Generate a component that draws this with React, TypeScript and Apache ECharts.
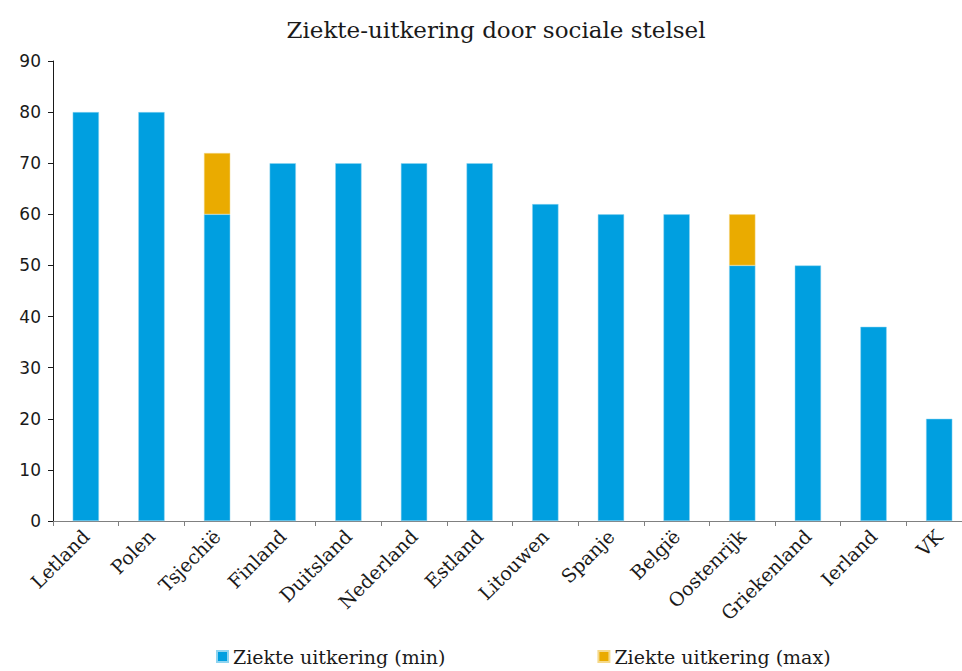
import React, { useEffect, useRef } from "react";
import * as echarts from "echarts";

const categories = ["Letland", "Polen", "Tsjechië", "Finland", "Duitsland", "Nederland", "Estland", "Litouwen", "Spanje", "België", "Oostenrijk", "Griekenland", "Ierland", "VK"];
const minValues = [80, 80, 60, 70, 70, 70, 70, 62, 60, 60, 50, 50, 38, 20];
const maxExtra = [0, 0, 12, 0, 0, 0, 0, 0, 0, 0, 10, 0, 0, 0];
const yTicks = [0, 10, 20, 30, 40, 50, 60, 70, 80, 90];

const SERIF = "'DejaVu Serif', serif";
const SANS = "'DejaVu Sans', sans-serif";

export default function App() {
  const ref = useRef<HTMLDivElement>(null);
  useEffect(() => {
    if (!ref.current) return;
    const chart = echarts.init(ref.current, null, { renderer: "svg" });
    chart.setOption({
      animation: false,
      backgroundColor: "#ffffff",
      title: {
        text: "Ziekte-uitkering door sociale stelsel",
        left: 491,
        textAlign: "center",
        top: 13,
        textStyle: { fontFamily: SERIF, fontWeight: "normal", fontSize: 23, color: "#1a1a1a" },
      },
      legend: {
        bottom: 0,
        left: 211,
        itemGap: 152,
        itemWidth: 11,
        itemHeight: 11,
        icon: "rect",
        textStyle: { fontFamily: SERIF, fontSize: 19, color: "#1a1a1a" },
        data: ["Ziekte uitkering (min)", "Ziekte uitkering (max)"],
      },
      grid: { left: 53, right: 8, top: 61, bottom: 150, containLabel: false },
      xAxis: {
        type: "category",
        data: categories,
        axisLine: { lineStyle: { color: "#808080", width: 1 } },
        axisTick: { show: true, length: 5, lineStyle: { color: "#808080" } },
        axisLabel: { rotate: 45, margin: 12, fontFamily: SERIF, fontSize: 19, color: "#1a1a1a", interval: 0 },
      },
      yAxis: {
        type: "value",
        min: 0,
        max: 90,
        interval: 10,
        axisLine: { show: true, lineStyle: { color: "#1a1a1a", width: 1 } },
        axisTick: { show: true, length: 5, lineStyle: { color: "#1a1a1a" } },
        splitLine: { show: false },
        axisLabel: { margin: 12, fontFamily: SANS, fontSize: 17, color: "#1a1a1a",
          formatter: (v: number) => (yTicks.includes(v) ? String(v) : "") },
      },
      series: [
        {
          name: "Ziekte uitkering (min)",
          type: "bar",
          stack: "a",
          barWidth: "40%",
          data: minValues,
          itemStyle: { color: "#009FE0", borderColor: "#8fd4f0", borderWidth: 0.5 },
        },
        {
          name: "Ziekte uitkering (max)",
          type: "bar",
          stack: "a",
          barWidth: "40%",
          data: maxExtra.map((v) => (v === 0 ? null : v)),
          itemStyle: { color: "#EAAB00", borderColor: "#f5d98a", borderWidth: 0.5 },
        },
      ],
    });
    return () => chart.dispose();
  }, []);
  return (
    <div style={{ position: "absolute", left: 0, top: 0, width: 962, height: 671, overflow: "hidden" }}>
      <div ref={ref} style={{ width: 980, height: 671 }} />
    </div>
  );
}
